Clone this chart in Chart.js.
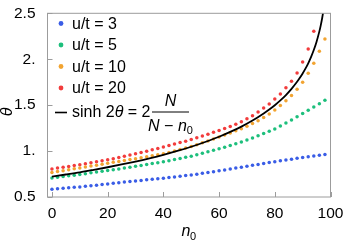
<!DOCTYPE html>
<html>
<head>
<meta charset="utf-8">
<script src="https://cdn.jsdelivr.net/npm/chart.js@4"></script>
<style>
  html, body { margin: 0; padding: 0; background: #fff; }
  #wrap { width: 343px; height: 241px; }
</style>
</head>
<body>
<div id="wrap"><canvas id="thetaChart" width="343" height="241"></canvas></div>
<script>
// n0 values of the dotted series
const n0 = [0, 2, 4, 6, 8, 10, 12, 14, 16, 18, 20, 22, 24, 26, 28, 30, 32, 34, 36, 38,
  40, 42, 44, 46, 48, 50, 52, 54, 56, 58, 60, 62, 64, 66, 68, 70, 72, 74, 76, 78,
  80, 82, 84, 86, 88, 90, 92, 94, 96, 98];

const seriesLabels = ["u/t = 3", "u/t = 5", "u/t = 10", "u/t = 20"];
const seriesColors = ["#3a5de6", "#1dbf7c", "#f2a431", "#f23c3c"];

const theta3 = [0.585, 0.590, 0.595, 0.600, 0.605, 0.610, 0.616, 0.623, 0.629, 0.636,
  0.642, 0.649, 0.655, 0.662, 0.668, 0.675, 0.681, 0.687, 0.693, 0.699,
  0.705, 0.712, 0.719, 0.726, 0.733, 0.740, 0.749, 0.758, 0.767, 0.776,
  0.785, 0.795, 0.805, 0.815, 0.825, 0.835, 0.845, 0.855, 0.865, 0.875,
  0.885, 0.894, 0.903, 0.912, 0.921, 0.930, 0.938, 0.946, 0.954, 0.962];

const theta5 = [0.706, 0.714, 0.722, 0.730, 0.738, 0.746, 0.754, 0.763, 0.771, 0.780,
  0.788, 0.797, 0.806, 0.816, 0.825, 0.834, 0.844, 0.854, 0.864, 0.874,
  0.884, 0.895, 0.907, 0.920, 0.932, 0.945, 0.960, 0.976, 0.992, 1.008,
  1.025, 1.043, 1.062, 1.081, 1.100, 1.120, 1.143, 1.166, 1.190, 1.215,
  1.240, 1.272, 1.305, 1.338, 1.373, 1.409, 1.445, 1.481, 1.516, 1.552];

const theta10 = [0.767, 0.777, 0.787, 0.797, 0.807, 0.817, 0.827, 0.837, 0.847, 0.857,
  0.867, 0.877, 0.887, 0.897, 0.907, 0.917, 0.927, 0.938, 0.949, 0.960,
  0.972, 0.985, 1.000, 1.016, 1.033, 1.051, 1.070, 1.090, 1.111, 1.132,
  1.154, 1.176, 1.198, 1.220, 1.242, 1.270, 1.299, 1.330, 1.365, 1.404,
  1.447, 1.495, 1.548, 1.605, 1.672, 1.749, 1.848, 1.956, 2.086, 2.220];

const theta20 = [0.806, 0.815, 0.824, 0.833, 0.842, 0.852, 0.862, 0.872, 0.883, 0.894,
  0.905, 0.917, 0.930, 0.943, 0.957, 0.971, 0.985, 0.999, 1.014, 1.029,
  1.044, 1.060, 1.076, 1.092, 1.108, 1.125, 1.144, 1.163, 1.183, 1.204,
  1.225, 1.246, 1.268, 1.292, 1.320, 1.352, 1.385, 1.426, 1.468, 1.513,
  1.566, 1.622, 1.689, 1.759, 1.851, 1.970, 2.112, 2.305];

// sinh 2θ = 2N/(N - n0) curve
const curveN0 = [0, 5, 10, 15, 20, 25, 30, 35, 40, 45, 50, 55, 60, 65, 68, 72, 76, 78,
  80, 82, 84, 86, 88, 89, 90, 91, 92, 93, 94, 95, 96, 96.5, 97, 97.5];
const curveTheta = [0.722, 0.745, 0.769, 0.796, 0.824, 0.854, 0.886, 0.921, 0.959, 1.001,
  1.047, 1.099, 1.156, 1.222, 1.266, 1.332, 1.409, 1.452, 1.499, 1.552, 1.610, 1.677,
  1.754, 1.797, 1.845, 1.897, 1.956, 2.023, 2.100, 2.191, 2.303, 2.369, 2.446, 2.538];

const xTicks = [0, 20, 40, 60, 80, 100];
const xTickLabels = ["0", "20", "40", "60", "80", "100"];
const yTicks = [0.5, 1, 1.5, 2, 2.5];
const yTickLabels = ["0.5", "1.", "1.5", "2.", "2.5"];

const FONT = "'Liberation Sans', Arial, sans-serif";

function toPoints(xs, ys) {
  return ys.map((v, i) => ({ x: xs[i], y: v }));
}

const allTheta = [theta3, theta5, theta10, theta20];
const dotSets = allTheta.map((t, i) => ({
  type: "scatter",
  label: seriesLabels[i],
  data: toPoints(n0, t),
  backgroundColor: seriesColors[i],
  borderWidth: 0,
  pointRadius: 1.75,
  order: 2,
}));

const frameAndLegend = {
  id: "frameAndLegend",
  afterDraw(chart) {
    const ctx = chart.ctx;
    const a = chart.chartArea;
    const xs = chart.scales.x;
    const ys = chart.scales.y;
    ctx.save();

    // frame + inward ticks
    ctx.strokeStyle = "#9c9c9c";
    ctx.lineWidth = 1;
    ctx.strokeRect(a.left, a.top, a.right - a.left, a.bottom - a.top);
    ctx.beginPath();
    xTicks.forEach((v) => {
      const px = Math.round(xs.getPixelForValue(v)) + 0.5;
      ctx.moveTo(px, a.bottom);
      ctx.lineTo(px, a.bottom - 5);
    });
    yTicks.forEach((v) => {
      const py = Math.round(ys.getPixelForValue(v)) + 0.5;
      ctx.moveTo(a.left, py);
      ctx.lineTo(a.left + 5, py);
    });
    ctx.stroke();

    // legend
    ctx.fillStyle = "#000";
    ctx.textBaseline = "middle";
    ctx.textAlign = "left";
    const rowY = [23.5, 45, 66.5, 88];
    seriesLabels.forEach((lab, i) => {
      ctx.fillStyle = seriesColors[i];
      ctx.beginPath();
      ctx.arc(61, rowY[i], 2.4, 0, Math.PI * 2);
      ctx.fill();
      ctx.fillStyle = "#000";
      ctx.font = "16px " + FONT;
      ctx.fillText(lab, 72, rowY[i] + 1);
    });

    // formula item
    const fy = 112.5;
    ctx.strokeStyle = "#000";
    ctx.lineWidth = 1.6;
    ctx.beginPath();
    ctx.moveTo(55, fy);
    ctx.lineTo(67, fy);
    ctx.stroke();
    let cx = 72;
    const put = (txt, style, dy, size) => {
      ctx.font = (style || "") + " " + (size || 16) + "px " + FONT;
      ctx.fillText(txt, cx, fy + (dy || 0));
      cx += ctx.measureText(txt).width;
    };
    put("sinh 2");
    put("\u03b8", "italic");
    put(" = 2");
    const barL = cx + 1.5;
    const barR = barL + 37;
    const mid = (barL + barR) / 2;
    ctx.lineWidth = 1;
    ctx.beginPath();
    ctx.moveTo(barL, fy - 0.5);
    ctx.lineTo(barR, fy - 0.5);
    ctx.stroke();
    ctx.textAlign = "center";
    ctx.font = "italic 16px " + FONT;
    ctx.fillText("N", mid, fy - 11);
    // denominator
    ctx.textAlign = "left";
    ctx.font = "italic 16px " + FONT;
    const wN = ctx.measureText("N").width;
    ctx.font = "16px " + FONT;
    const wM = ctx.measureText(" \u2212 ").width;
    ctx.font = "italic 16px " + FONT;
    const wn = ctx.measureText("n").width;
    ctx.font = "11px " + FONT;
    const w0 = ctx.measureText("0").width;
    cx = mid - (wN + wM + wn + w0) / 2;
    put("N", "italic", 14);
    put(" \u2212 ", "", 14);
    put("n", "italic", 14);
    put("0", "", 18, 11);

    // axis titles
    ctx.save();
    ctx.translate(8, 112);
    ctx.rotate(-Math.PI / 2);
    ctx.textAlign = "center";
    ctx.font = "italic 16px " + FONT;
    ctx.fillText("\u03b8", 0, 0);
    ctx.restore();

    ctx.textAlign = "left";
    ctx.font = "italic 16px " + FONT;
    ctx.fillText("n", 181.5, 232);
    ctx.font = "11px " + FONT;
    ctx.fillText("0", 190, 236.5);

    ctx.restore();
  },
};

new Chart(document.getElementById("thetaChart"), {
  type: "scatter",
  data: {
    datasets: [
      {
        type: "line",
        label: "curve",
        data: toPoints(curveN0, curveTheta),
        borderColor: "#000",
        borderWidth: 1.8,
        pointRadius: 0,
        cubicInterpolationMode: "monotone",
        fill: false,
        order: 1,
      },
      ...dotSets,
    ],
  },
  options: {
    responsive: false,
    animation: false,
    devicePixelRatio: 1,
    layout: { padding: { left: 0, right: 12.5, top: 7.5, bottom: 0 } },
    plugins: { legend: { display: false }, tooltip: { enabled: false } },
    scales: {
      x: {
        type: "linear",
        min: -1.6,
        max: 100,
        grid: { display: false },
        border: { display: false },
        afterBuildTicks: (s) => { s.ticks = xTicks.map((v) => ({ value: v })); },
        afterFit: (s) => { s.height = 44; },
        ticks: {
          color: "#000",
          padding: -1,
          maxRotation: 0,
          autoSkip: false,
          font: { family: FONT, size: 15.5 },
          callback: (v) => xTickLabels[xTicks.indexOf(v)],
        },
      },
      y: {
        type: "linear",
        min: 0.5,
        max: 2.5,
        grid: { display: false },
        border: { display: false },
        afterBuildTicks: (s) => { s.ticks = yTicks.map((v) => ({ value: v })); },
        afterFit: (s) => { s.width = 47.5; },
        ticks: {
          color: "#000",
          padding: 4,
          autoSkip: false,
          font: { family: FONT, size: 15.5 },
          callback: (v) => yTickLabels[yTicks.indexOf(v)],
        },
      },
    },
  },
  plugins: [frameAndLegend],
});
</script>
</body>
</html>
